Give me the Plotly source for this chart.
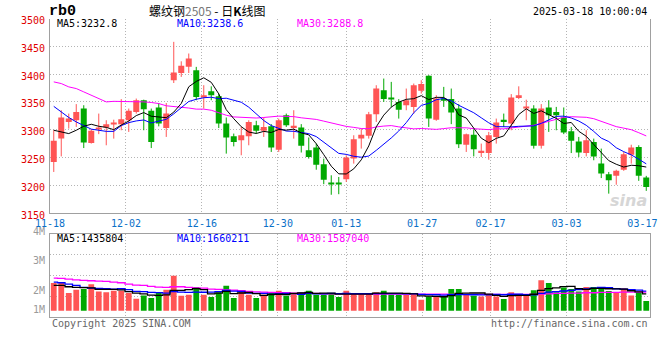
import plotly.graph_objects as go

W, H = 660, 360

# ---------------- data ----------------
dates = ["11-18","11-19","11-20","11-21","11-22","11-25","11-26","11-27","11-28","11-29",
         "12-02","12-03","12-04","12-05","12-06","12-09","12-10","12-11","12-12","12-13",
         "12-16","12-17","12-18","12-19","12-20","12-23","12-24","12-25","12-26","12-27",
         "12-30","12-31","01-02","01-03","01-06","01-07","01-08","01-09","01-10","01-13",
         "01-14","01-15","01-16","01-17","01-20","01-21","01-22","01-23","01-24","01-27",
         "02-05","02-06","02-07","02-10","02-11","02-12","02-13","02-14","02-17","02-18",
         "02-19","02-20","02-21","02-24","02-25","02-26","02-27","02-28","03-03","03-04",
         "03-05","03-06","03-07","03-10","03-11","03-12","03-13","03-14","03-17","03-18"]
tick_labels = ["11-18","12-02","12-16","12-30","01-13","01-27","02-17","03-03","03-17"]

open_ = [3242,3284,3314,3317,3338,3276,3302,3304,3310,3310,
         3317,3332,3353,3334,3340,3303,3389,3402,3413,3407,
         3359,3369,3360,3311,3288,3281,3288,3308,3298,3306,
         3264,3326,3303,3304,3263,3268,3238,3205,3205,3211,
         3248,3284,3289,3328,3371,3357,3350,3344,3341,3370,
         3397,3318,3356,3355,3338,3273,3291,3258,3258,3287,
         3318,3311,3357,3340,3338,3271,3340,3332,3322,3297,
         3279,3258,3278,3239,3220,3217,3228,3255,3269,3214]
high = [3299,3335,3329,3346,3344,3301,3329,3317,3318,3355,
        3338,3356,3354,3338,3348,3348,3458,3423,3437,3413,
        3380,3378,3365,3322,3293,3305,3317,3316,3322,3310,
        3320,3329,3335,3310,3286,3275,3248,3218,3215,3254,
        3290,3302,3332,3380,3392,3386,3355,3374,3383,3389,
        3398,3362,3377,3374,3346,3293,3300,3275,3296,3320,
        3329,3364,3378,3354,3344,3346,3353,3341,3340,3305,
        3287,3299,3284,3266,3224,3228,3260,3273,3272,3217]
low = [3224,3252,3302,3305,3267,3275,3292,3272,3284,3299,
       3296,3329,3299,3267,3306,3287,3384,3395,3402,3353,
       3338,3353,3303,3257,3270,3254,3272,3293,3287,3260,
       3260,3305,3284,3259,3248,3228,3202,3183,3184,3206,
       3239,3266,3284,3314,3350,3341,3320,3335,3329,3365,
       3305,3316,3341,3310,3267,3260,3252,3251,3246,3275,
       3305,3299,3355,3317,3266,3266,3296,3299,3292,3258,
       3251,3252,3245,3213,3185,3201,3226,3239,3208,3190]
close = [3280,3322,3320,3332,3277,3298,3304,3310,3311,3319,
         3334,3353,3337,3278,3311,3329,3403,3415,3428,3359,
         3362,3362,3311,3286,3278,3290,3314,3298,3305,3268,
         3317,3308,3307,3271,3251,3237,3210,3203,3202,3250,
         3283,3291,3328,3374,3355,3355,3336,3353,3380,3382,
         3320,3356,3352,3331,3274,3292,3265,3262,3290,3313,
         3314,3358,3362,3341,3271,3338,3326,3326,3295,3280,
         3259,3281,3252,3221,3209,3226,3256,3268,3217,3197]

ma5 = [3299,3296,3293,3299,3306.2,3309.8,3306.2,3304.2,3300.0,3308.4,
       3315.6,3325.4,3330.8,3324.2,3322.6,3321.6,3331.6,3347.2,3377.2,3386.8,
       3393.4,3385.2,3364.4,3336.0,3319.8,3305.4,3295.8,3293.2,3297.0,3295.0,
       3300.4,3299.2,3301.0,3294.2,3290.8,3274.8,3255.2,3234.4,3220.6,3220.4,
       3229.6,3245.8,3270.8,3305.2,3326.2,3340.6,3349.6,3354.6,3355.8,3361.2,
       3354.2,3358.2,3358.0,3348.2,3326.6,3321.0,3302.8,3284.8,3276.6,3284.4,
       3288.8,3307.4,3327.4,3337.6,3329.2,3334.0,3327.6,3320.4,3311.2,3313.0,
       3297.2,3288.2,3273.4,3258.6,3244.4,3237.8,3232.8,3236.0,3235.2,3232.8]
ma10 = [3342,3332,3322,3314,3307,3301,3299,3297,3297,3307.3,
        3312.7,3315.8,3317.5,3312.1,3315.5,3318.6,3328.5,3339.0,3350.7,3354.7,
        3357.5,3358.4,3355.8,3356.6,3353.3,3349.4,3340.5,3328.8,3316.5,3307.4,
        3302.9,3297.5,3297.1,3295.6,3292.9,3287.6,3277.2,3267.7,3257.4,3255.6,
        3252.2,3250.5,3252.6,3262.9,3273.3,3285.1,3297.7,3312.7,3330.5,3343.7,
        3347.4,3353.9,3356.3,3352.0,3343.9,3337.6,3330.5,3321.4,3312.4,3305.5,
        3304.9,3305.1,3306.1,3307.1,3306.8,3311.4,3317.5,3323.9,3324.4,3321.1,
        3315.6,3307.9,3296.9,3284.9,3278.7,3267.5,3260.5,3254.7,3246.9,3238.6]
ma30 = [3386,3383,3377,3374,3368,3362,3355,3350,3351,3351,
        3350,3350,3350,3349,3347,3343,3342,3341,3339,3337,
        3337,3335,3330,3326,3323,3322,3322,3321,3322,3323.1,
        3324.4,3323.9,3323.5,3321.4,3320.6,3318.5,3315.4,3311.8,3308.2,3305.9,
        3304.2,3302.1,3301.8,3305.0,3306.5,3307.4,3305.1,3303.1,3301.5,3302.2,
        3300.8,3300.6,3302.0,3303.5,3303.4,3303.4,3301.8,3300.6,3300.1,3301.6,
        3301.5,3303.2,3305.0,3307.3,3308.0,3311.4,3315.2,3319.3,3322.4,3323.4,
        3322.6,3322.3,3319.8,3314.7,3309.8,3305.5,3302.8,3300.0,3294.6,3288.8]

# volume, million lots
volume = [2.35,2.35,1.50,1.78,1.84,2.26,1.64,1.58,1.70,1.70,
          1.50,1.02,1.30,1.08,1.58,1.78,2.97,1.27,1.36,2.01,
          1.36,1.16,1.58,2.12,1.08,1.61,1.36,1.08,1.36,1.50,
          1.70,1.27,1.50,1.58,1.70,1.36,1.36,1.50,1.16,1.70,
          1.36,1.36,1.50,1.58,1.70,1.36,1.36,1.36,1.36,0.93,
          1.22,1.22,1.22,1.84,1.84,1.36,1.27,1.22,1.42,1.22,
          0.99,1.58,1.27,1.42,1.75,2.60,2.35,1.58,1.98,1.84,
          1.64,2.01,2.01,2.01,1.67,1.58,1.92,1.30,1.56,0.82]
vma5 = [2.15,2.15,2.04,1.98,1.96,1.95,1.81,1.82,1.81,1.78,
        1.62,1.50,1.44,1.32,1.30,1.35,1.74,1.74,1.79,1.88,
        1.79,1.43,1.49,1.65,1.46,1.51,1.55,1.45,1.30,1.38,
        1.40,1.38,1.47,1.51,1.55,1.48,1.50,1.50,1.42,1.42,
        1.42,1.42,1.42,1.50,1.50,1.50,1.50,1.47,1.43,1.27,
        1.25,1.22,1.19,1.28,1.47,1.49,1.51,1.51,1.42,1.30,
        1.22,1.28,1.30,1.30,1.40,1.73,1.88,1.94,2.05,2.07,
        1.88,1.81,1.90,1.90,1.87,1.86,1.84,1.70,1.61,1.435804]
vma10 = [2.43,2.38,2.26,2.15,1.98,1.92,1.90,1.87,1.84,1.87,
         1.79,1.65,1.63,1.56,1.54,1.49,1.62,1.59,1.56,1.59,
         1.57,1.59,1.62,1.72,1.67,1.65,1.49,1.47,1.47,1.42,
         1.45,1.47,1.46,1.40,1.47,1.44,1.44,1.48,1.46,1.48,
         1.45,1.46,1.46,1.46,1.46,1.46,1.46,1.44,1.46,1.39,
         1.37,1.36,1.33,1.36,1.37,1.37,1.36,1.35,1.35,1.38,
         1.36,1.40,1.40,1.36,1.35,1.47,1.58,1.62,1.68,1.74,
         1.80,1.85,1.92,1.98,1.97,1.87,1.83,1.80,1.75,1.660211]
vma30 = [2.77,2.75,2.69,2.63,2.58,2.55,2.52,2.49,2.43,2.38,
         2.26,2.18,2.15,2.07,2.01,1.98,2.04,2.04,1.98,1.95,
         1.92,1.84,1.81,1.78,1.75,1.70,1.64,1.61,1.58,1.56,
         1.53,1.53,1.50,1.50,1.47,1.47,1.44,1.44,1.44,1.44,
         1.42,1.42,1.42,1.42,1.42,1.42,1.42,1.42,1.42,1.42,
         1.42,1.42,1.42,1.39,1.39,1.39,1.39,1.39,1.39,1.39,
         1.39,1.39,1.39,1.39,1.39,1.42,1.44,1.47,1.47,1.50,
         1.50,1.53,1.53,1.56,1.56,1.56,1.58,1.58,1.58,1.587040]

# ---------------- style ----------------
MONO = "DejaVu Sans Mono"
CJK = "Noto Sans CJK SC"
RED = "#ff5555"
GREEN = "#00a800"
BLUE_TXT = "#0a70c8"
GRID = "#b4b4b4"
FRAME = "#a0a0a0"
DOT = "1px,2px"

n = len(dates)
xs = list(range(n))
colors = [RED if c >= o else GREEN for o, c in zip(open_, close)]

label_idx = [dates.index(t) for t in tick_labels]
# sina spreads its date grid over n-1 intervals across the full plot width
label_pos = [i * n / (n - 1) - 0.5 for i in label_idx]
grid_pos = label_pos[:-1]

def pxx(v):
    return v / W

def pxy(v):
    return 1 - v / H

fig = go.Figure()

# wicks
for col in (RED, GREEN):
    wx, wy = [], []
    for i in xs:
        if colors[i] == col:
            wx += [i, i, None]
            wy += [low[i], high[i], None]
    fig.add_trace(go.Scatter(x=wx, y=wy, mode="lines", line=dict(color=col, width=1),
                             xaxis="x", yaxis="y", hoverinfo="skip", showlegend=False))

# bodies
min_h = 1.8
body_h = [max(abs(c - o), min_h) for o, c in zip(open_, close)]
body_base = [min(o, c) - (bh - abs(c - o)) / 2 for o, c, bh in zip(open_, close, body_h)]
fig.add_trace(go.Bar(x=xs, y=body_h, base=body_base, width=0.8,
                     marker=dict(color=colors, line=dict(width=0)),
                     xaxis="x", yaxis="y", showlegend=False))

# price MAs
for arr, col in ((ma30, "#ff00ff"), (ma10, "#0000ff"), (ma5, "#000000")):
    fig.add_trace(go.Scatter(x=xs, y=arr, mode="lines", line=dict(color=col, width=1),
                             xaxis="x3", yaxis="y", showlegend=False))

# volume
fig.add_trace(go.Bar(x=xs, y=volume, width=0.77, marker=dict(color=colors, line=dict(width=0)),
                     xaxis="x2", yaxis="y2", showlegend=False))
for arr, col in ((vma30, "#ff00ff"), (vma10, "#0000ff"), (vma5, "#000000")):
    fig.add_trace(go.Scatter(x=xs, y=arr, mode="lines", line=dict(color=col, width=1.3, shape="hvh"),
                             xaxis="x2", yaxis="y2", showlegend=False))

x_dom = [pxx(50), pxx(650)]
vol_range = [-0.56, 6.53]
vol_grid = [vol_range[0] + k * (vol_range[1] - vol_range[0]) / 4 for k in (1, 2, 3)]

common = dict(automargin=False, zeroline=False, fixedrange=True)

fig.update_layout(
    template="none",
    width=W, height=H, margin=dict(l=0, r=0, t=0, b=0, pad=0, autoexpand=False),
    paper_bgcolor="white", plot_bgcolor="white",
    barmode="overlay", showlegend=False,
    xaxis=dict(domain=x_dom, range=[-0.5, n - 0.5], anchor="y",
               tickmode="array", tickvals=grid_pos, showticklabels=False, ticks="",
               showgrid=True, gridcolor=GRID, griddash=DOT, gridwidth=1,
               showline=True, linecolor=FRAME, linewidth=1, **common),
    xaxis3=dict(range=[-0.5, n - 0.5], overlaying="x", anchor="y",
                tickmode="array", tickvals=label_pos, ticktext=tick_labels, ticks="",
                tickfont=dict(family=MONO, size=10, color=BLUE_TXT),
                showgrid=False, showline=False, ticklabelstandoff=3,
                ticklabeloverflow="allow", **common),
    yaxis=dict(domain=[pxy(213.1), pxy(18.5)], range=[3150, 3500],
               tickmode="linear", tick0=3150, dtick=50, ticks="",
               tickfont=dict(family=MONO, size=10, color="#e00000"),
               showgrid=True, gridcolor=GRID, griddash=DOT, gridwidth=1,
               showline=True, mirror=True, linecolor=FRAME, linewidth=1,
               ticklabelstandoff=2, ticklabelshift=2, ticklabeloverflow="allow", **common),
    xaxis2=dict(domain=x_dom, range=[-0.5, n - 0.5], anchor="y2",
                tickmode="array", tickvals=grid_pos, showticklabels=False, ticks="",
                showgrid=True, gridcolor=GRID, griddash=DOT, gridwidth=1,
                showline=True, mirror=True, linecolor=FRAME, linewidth=1, **common),
    yaxis2=dict(domain=[pxy(317.3), pxy(234)], range=vol_range,
                tickmode="array", tickvals=vol_grid, showticklabels=False, ticks="",
                showgrid=True, gridcolor=GRID, griddash=DOT, gridwidth=1,
                showline=True, mirror=True, linecolor=FRAME, linewidth=1, **common),
)

ann = []

def text(x, y, s, size=10, color="#000", family=MONO, xanchor="left"):
    ann.append(dict(x=pxx(x), y=pxy(y), xref="paper", yref="paper", text=s, showarrow=False,
                    xanchor=xanchor, yanchor="middle",
                    font=dict(family=family, size=size, color=color)))

text(47, 11, "<b>rb0</b>", size=15, family="Liberation Mono")
text(207, 10.5, '螺纹钢<span style="color:#777">2505</span> - 日<b>K</b>线图', size=12,
     family=CJK, xanchor="center")
text(649, 12, "2025-03-18 10:00:04", size=10, xanchor="right")

text(55, 23.7, f"MA5:{ma5[-1]:.1f}", color="#000000")
text(175, 23.7, f"MA10:{ma10[-1]:.1f}", color="#0000ff")
text(295, 23.7, f"MA30:{ma30[-1]:.1f}", color="#ff00ff")

text(55, 238.7, f"MA5:{round(vma5[-1] * 1e6)}", color="#000000")
text(175, 238.7, f"MA10:{round(vma10[-1] * 1e6)}", color="#0000ff")
text(295, 238.7, f"MA30:{round(vma30[-1] * 1e6)}", color="#ff00ff")

for lab, yy in (("4M", 231.5), ("3M", 260), ("2M", 290), ("1M", 309.7)):
    text(46.5, yy, lab, color="#9a9a9a", xanchor="right")

text(50, 323.5, "Copyright 2025 SINA.COM", color="#666666")
text(650, 323.5, "http://finance.sina.com.cn", color="#666666", xanchor="right")
text(628, 200, "<b><i>sina</i></b>", size=16, color="#d6d6d6", family="DejaVu Sans",
     xanchor="center")

fig.update_layout(annotations=ann)
fig.write_html("out.html", config={"displayModeBar": False},
               post_script="document.body.style.margin='0';document.body.style.overflow='hidden';")
